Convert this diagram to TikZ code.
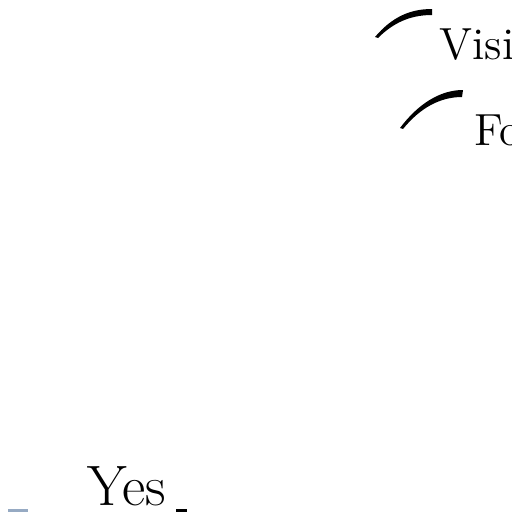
\documentclass[tikz,border=0pt]{standalone}
\usepackage{tikz}
\definecolor{cinzaazul}{RGB}{150,170,195}
\tikzset{
  rotulo/.style={anchor=base west, inner sep=0pt, font=\fontsize{12.8}{16}\selectfont},
  rotulogrande/.style={anchor=base west, inner sep=0pt, font=\fontsize{16.2}{19}\selectfont},
  traco/.style={fill=black, draw=none}
}
\begin{document}
\begin{tikzpicture}[x=0.01cm, y=-0.01cm]
      % Area do desenho
      \useasboundingbox (0,0) rectangle (512,512);
      \fill[white] (0,0) rectangle (512,512);

      % Tracos curvos
      \fill[traco] (375,37) .. controls (392,17) and (410,9) .. (432,9)
                   -- (432,15) .. controls (410,15) and (393,23) .. (378,38) -- cycle;
      \fill[traco] (400,128) .. controls (418,104) and (440,90) .. (463,90)
                   -- (462,97) .. controls (440,97) and (420,108) .. (403,129) -- cycle;

      % Textos
      \node[rotulo] (visit) at (439,60) {Visit};
      \node[rotulo] (fo) at (474,145) {Fo};
      \node[rotulogrande] (yes) at (87,505) {Yes};

      % Marcas na borda inferior
      \draw[cinzaazul, line width=1.2] (8,511) -- (28,511);
      \draw[black, line width=1.2] (176,511) -- (187,511);
\end{tikzpicture}
\end{document}
